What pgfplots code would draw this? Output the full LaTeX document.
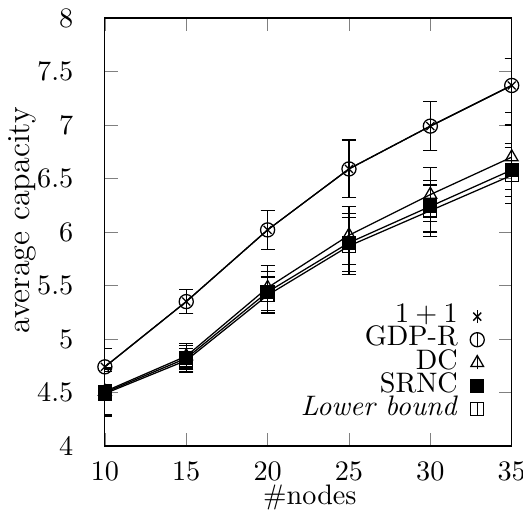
\documentclass[border=0pt]{standalone}
\usepackage{pgfplots}
\pgfplotsset{compat=1.18}
\begin{document}
\begin{tikzpicture}
\begin{axis}[
  scale only axis, width=144.3pt, height=151.8pt,
  xmin=10, xmax=35, ymin=4, ymax=8,
  xtick={10,15,...,35}, ytick={4,4.5,...,8},
  tick align=inside, major tick length=4.6pt,
  xticklabel style={yshift=-2.4pt, inner xsep=0pt},
  yticklabel style={xshift=-7.7pt},
  xlabel={\#nodes}, ylabel={average capacity},
  xlabel style={at={(axis description cs:0.504,-0.121)}, anchor=center},
  ylabel style={at={(axis description cs:-0.204,0.527)}, anchor=center,
    font=\fontsize{11.4}{13}\selectfont},
  legend plot pos=right, legend cell align=right,
  legend style={at={(0.934,0.058)}, anchor=south east,
    draw=none, fill=none, inner sep=0pt, column sep=4.4pt, row sep=0pt,
    nodes={inner sep=0pt, text height=6.3pt, text depth=1.9pt}},
  legend image code/.code={
    \draw[#1] (0pt,-2.3pt) -- (0pt,2.3pt);
    \draw[#1] plot coordinates {(0pt,0pt)};
  },
]
% 1+1
\addplot[black, line width=0.45pt, mark=x, mark size=2pt, mark options={solid},
  error bars/.cd, y dir=both, y explicit, error mark options={rotate=90, mark size=2.5pt}]
  coordinates {(10,4.74) +- (0,0.17) (15,5.35) +- (0,0.11) (20,6.02) +- (0,0.18)
               (25,6.59) +- (0,0.27) (30,6.99) +- (0,0.23) (35,7.37) +- (0,0.25)};
\addlegendentry{$1+1$}
% GDP-R
\addplot[black, line width=0.45pt, mark=o, mark size=2.5pt, mark options={solid},
  error bars/.cd, y dir=both, y explicit, error mark options={rotate=90, mark size=2.5pt}]
  coordinates {(10,4.74) +- (0,0.17) (15,5.35) +- (0,0.11) (20,6.02) +- (0,0.18)
               (25,6.59) +- (0,0.27) (30,6.99) +- (0,0.23) (35,7.37) +- (0,0.25)};
\addlegendentry{GDP-R}
% DC
\addplot[black, line width=0.45pt, mark=triangle, mark size=2.6pt, mark options={solid},
  error bars/.cd, y dir=both, y explicit, error mark options={rotate=90, mark size=2.5pt}]
  coordinates {(10,4.51) +- (0,0.22) (15,4.84) +- (0,0.12) (20,5.48) +- (0,0.21)
               (25,5.97) +- (0,0.27) (30,6.35) +- (0,0.25) (35,6.70) +- (0,0.30)};
\addlegendentry{DC}
% SRNC
\addplot[black, line width=0.45pt, mark=square*, mark size=2.3pt, mark options={solid},
  error bars/.cd, y dir=both, y explicit, error mark options={rotate=90, mark size=2.5pt}]
  coordinates {(10,4.50) +- (0,0.22) (15,4.82) +- (0,0.12) (20,5.44) +- (0,0.19)
               (25,5.90) +- (0,0.27) (30,6.24) +- (0,0.24) (35,6.58) +- (0,0.25)};
\addlegendentry{SRNC}
% Lower bound
\addplot[black, line width=0.45pt, mark=square, mark size=2.3pt, mark options={solid},
  error bars/.cd, y dir=both, y explicit, error mark options={rotate=90, mark size=2.5pt}]
  coordinates {(10,4.49) +- (0,0.21) (15,4.80) +- (0,0.11) (20,5.41) +- (0,0.17)
               (25,5.87) +- (0,0.27) (30,6.20) +- (0,0.24) (35,6.53) +- (0,0.26)};
\addlegendentry{\textit{Lower bound}}
\end{axis}
\pgfresetboundingbox
\path[use as bounding box] (-37.2pt,-27.3pt) rectangle (148.2pt,158.2pt);
\end{tikzpicture}
\end{document}
